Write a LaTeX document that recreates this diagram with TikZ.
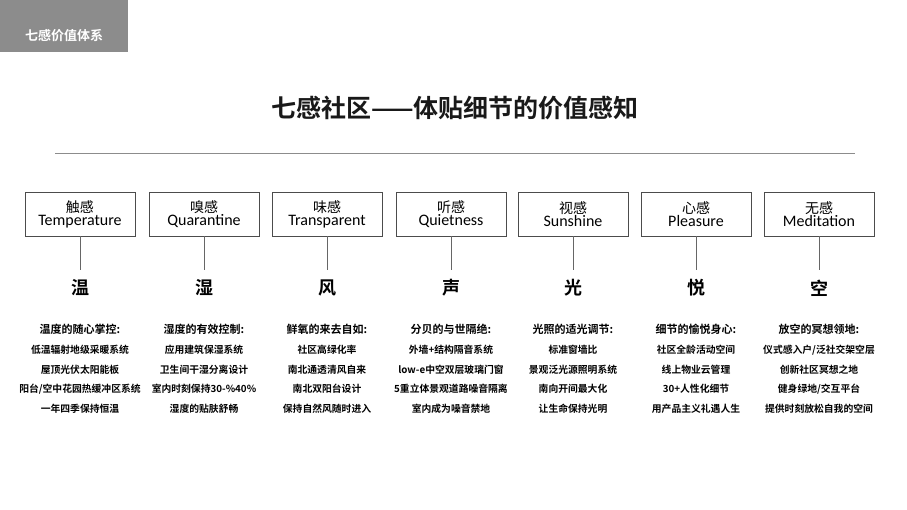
\documentclass[tikz,border=0pt]{standalone}
\usepackage{fontspec}
\setmainfont{Noto Sans CJK SC}
\newfontfamily\cjkb{Noto Sans CJK SC Bold}
\newfontfamily\latn{Carlito}
\begin{document}
\begin{tikzpicture}[x=1pt,y=-1pt,
  cbox/.style={draw=black!70,line width=0.6pt,minimum width=110pt,minimum height=44pt,align=center,inner sep=1pt,font=\fontsize{14}{16}\selectfont},
  big/.style={font=\cjkb\fontsize{18}{20}\selectfont},
  head/.style={font=\cjkb\fontsize{11}{13}\selectfont},
  item/.style={font=\cjkb\fontsize{9.8}{12}\selectfont}]
\useasboundingbox (0,0) rectangle (907,510);
\fill[black!45] (0,0) rectangle (128,52);
\node[text=white,font=\cjkb\fontsize{13}{15}\selectfont] (tag) at (64,36) {七感价值体系};
\node[font=\cjkb\fontsize{25}{28}\selectfont,text=black!90] (title) at (455,108) {七感社区——体贴细节的价值感知};
\coordinate (l1) at (55,153); \coordinate (l2) at (855,153);
\draw[black!45,line width=0.6pt] (l1) -- (l2);
\foreach \i/\cx/\cn/\en/\ch/\hd/\a/\b/\c/\d in {
 1/80/触感/Temperature/温/温度的随心掌控:/低温辐射地级采暖系统/屋顶光伏太阳能板/{阳台/空中花园热缓冲区系统}/一年四季保持恒温,
 2/204/嗅感/Quarantine/湿/湿度的有效控制:/应用建筑保湿系统/卫生间干湿分离设计/室内时刻保持30-\%40\%/湿度的贴肤舒畅,
 3/327/味感/Transparent/风/鲜氧的来去自如:/社区高绿化率/南北通透清风自来/南北双阳台设计/保持自然风随时进入,
 4/451/听感/Quietness/声/分贝的与世隔绝:/外墙+结构隔音系统/low-e中空双层玻璃门窗/5重立体景观道路噪音隔离/室内成为噪音禁地,
 5/573/视感/Sunshine/光/光照的适光调节:/标准窗墙比/景观泛光源照明系统/南向开间最大化/让生命保持光明,
 6/696/心感/Pleasure/悦/细节的愉悦身心:/社区全龄活动空间/线上物业云管理/30+人性化细节/用产品主义礼遇人生,
 7/819/无感/Meditation/空/放空的冥想领地:/{仪式感入户/泛社交架空层}/创新社区冥想之地/{健身绿地/交互平台}/提供时刻放松自我的空间}{
  \node[cbox] (b\i) at (\cx,214) {\cn\\[-3pt]{\latn\fontsize{16}{18}\selectfont\en}};
  \node[big] (c\i) at (\cx,288) {\ch};
  \draw[black!60,line width=0.6pt] (b\i.south) -- ++(0,34);
  \node[head] (h\i) at (\cx,329) {\hd};
  \node[item] (i\i a) at (\cx,350) {\a};
  \node[item] (i\i b) at (\cx,369.5) {\b};
  \node[item] (i\i c) at (\cx,389) {\c};
  \node[item] (i\i d) at (\cx,409) {\d};
}
\end{tikzpicture}
\end{document}
